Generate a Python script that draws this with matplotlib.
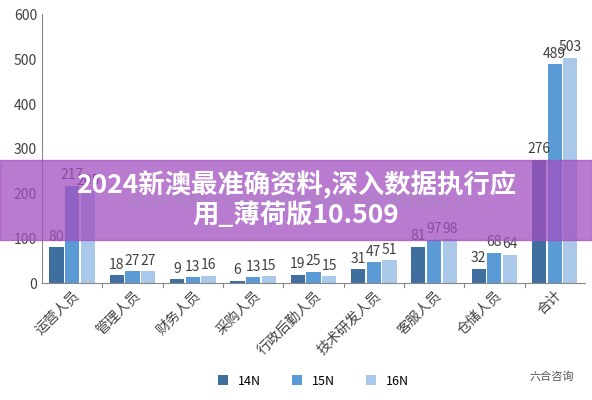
import numpy as np
import matplotlib.pyplot as plt

plt.rcParams['font.family'] = ['Noto Sans CJK SC', 'DejaVu Sans']

categories = ['运营人员', '管理人员', '财务人员', '采购人员', '行政后勤人员',
              '技术研发人员', '客服人员', '仓储人员', '合计']
series_names = ['14N', '15N', '16N']
vals_14n = [80, 18, 9, 6, 19, 31, 81, 32, 276]
vals_15n = [217, 27, 13, 13, 25, 47, 97, 68, 489]
vals_16n = [205, 27, 16, 15, 15, 51, 98, 64, 503]
colors = ['#3f6f9f', '#5b9bd5', '#a9c8ea']

fig = plt.figure(figsize=(5.92, 4.0), dpi=100)
ax = fig.add_axes([0.071, 0.292, 0.917, 0.672])

x = np.arange(len(categories))
w = 0.26
for i, (name, vals, c) in enumerate(zip(series_names, [vals_14n, vals_15n, vals_16n], colors)):
    bars = ax.bar(x + (i - 1) * w, vals, w * 0.9, color=c, label=name)
    for b, v in zip(bars, vals):
        ax.text(b.get_x() + b.get_width() / 2, v + 8, str(v), ha='center', va='bottom',
                fontsize=10, color='#404040')

ax.set_ylim(0, 600)
ax.set_xlim(-0.5, len(categories) - 0.5)
ax.set_yticks(range(0, 601, 100))
ax.tick_params(axis='y', length=0, labelsize=10, colors='#404040')
ax.set_xticks(x)
ax.set_xticklabels(categories, rotation=45, ha='right', rotation_mode='anchor', fontsize=10, color='#404040')
ax.tick_params(axis='x', length=0)
for s in ['top', 'right']:
    ax.spines[s].set_visible(False)
ax.spines['left'].set_color('#888888')
ax.spines['bottom'].set_color('#888888')
for xi in np.arange(0.5, len(categories) - 0.5):
    ax.plot([xi, xi], [0, -8], color='#888888', lw=0.8, clip_on=False)

ax.legend(loc='lower center', bbox_to_anchor=(0.5, -0.43), ncol=3, frameon=False,
          fontsize=9, handlelength=0.8, handleheight=0.8, columnspacing=2.5)

# watermark banner
fig.patches.append(plt.Rectangle((0, 0.40), 1, 0.20, transform=fig.transFigure,
                                 color='#a24fc0', alpha=0.75, zorder=5))
fig.text(0.5, 0.497, '2024年香港6合资料大全套,定性解析说明_增强版34.26', ha='center', va='center',
         fontsize=10, color='#b080c8', fontweight='bold', zorder=6)
fig.text(0.5, 0.5, '2024新澳最准确资料,深入数据执行应\n用_薄荷版10.509', ha='center', va='center',
         fontsize=19, color='white', fontweight='bold', zorder=7, linespacing=1.15)
fig.text(0.97, 0.06, '六合咨询', ha='right', va='center', fontsize=8, color='#555555')

fig.savefig('out.png', dpi=100)
